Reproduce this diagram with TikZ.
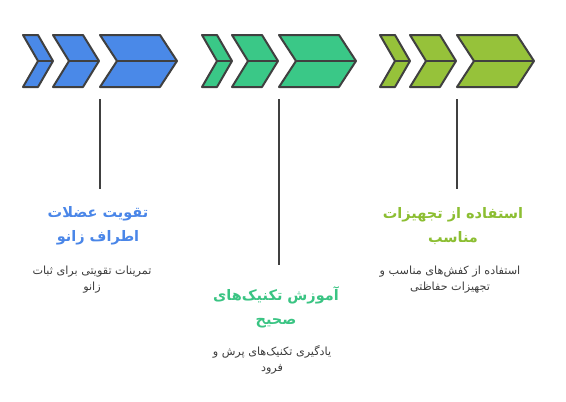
\documentclass[tikz,border=0pt]{standalone}
\usepackage{fontspec}
\newfontfamily\arabicfont[Script=Arabic]{DejaVu Sans}
\TeXXeTstate=1
\definecolor{cblue}{RGB}{74,137,232}
\definecolor{cgreen}{RGB}{58,200,135}
\definecolor{clime}{RGB}{150,194,58}
\definecolor{tblue}{RGB}{74,134,232}
\definecolor{tgreen}{RGB}{58,196,131}
\definecolor{tlime}{RGB}{140,190,50}
\definecolor{edge}{RGB}{64,64,64}
\definecolor{desc}{RGB}{60,60,60}
\tikzset{
  chev/.style={draw=edge,line width=2pt,line join=round},
  vline/.style={draw=edge,line width=1.8pt},
  titlebox/.style={align=center,inner sep=0pt,font=\arabicfont\bfseries\fontsize{14.5}{24}\selectfont},
  descbox/.style={align=center,inner sep=0pt,text=desc,font=\arabicfont\fontsize{11.2}{16}\selectfont},
}
\newcommand\mychev[4]{%
  \filldraw[chev,fill=#1] (#2,35) -- ++(#3,0) -- ++(#4,26) -- ++(-#4,26) -- ++(-#3,0) -- ++(#4,-26) -- cycle;
  \draw[chev] (#2+#4,61) -- (#2+#3+#4,61);}
\newcommand\mygroup[2]{%
  \mychev{#1}{#2}{15}{15}%
  \mychev{#1}{#2+30}{30}{16}%
  \mychev{#1}{#2+77}{60}{17}}
\begin{document}
\begin{tikzpicture}[x=1pt,y=-1pt]
\useasboundingbox (0,0) rectangle (566,402);
\mygroup{cblue}{23}
\mygroup{cgreen}{202}
\mygroup{clime}{380}
\coordinate (b0) at (100,99);
\coordinate (b1) at (100,189);
\coordinate (g0) at (279,99);
\coordinate (g1) at (279,265);
\coordinate (l0) at (457,99);
\coordinate (l1) at (457,189);
\draw[vline] (b0) -- (b1);
\draw[vline] (g0) -- (g1);
\draw[vline] (l0) -- (l1);
\node[titlebox,text=tblue] (bt) at (98,226) {\beginR تقویت عضلات\endR\\\beginR اطراف زانو\endR};
\node[descbox] (bd) at (92,280) {\beginR تمرینات تقویتی برای ثبات\endR\\\beginR زانو\endR};
\node[titlebox,text=tgreen] (gt) at (276,307) {\beginR آموزش تکنیک‌های\endR\\\beginR صحیح\endR};
\node[descbox] (gd) at (272,360) {\beginR یادگیری تکنیک‌های پرش و\endR\\\beginR فرود\endR};
\node[titlebox,text=tlime] (lt) at (453,226) {\beginR استفاده از تجهیزات\endR\\\beginR مناسب\endR};
\node[descbox] (ld) at (450,280) {\beginR استفاده از کفش‌های مناسب و\endR\\\beginR تجهیزات حفاظتی\endR};
\end{tikzpicture}
\end{document}
